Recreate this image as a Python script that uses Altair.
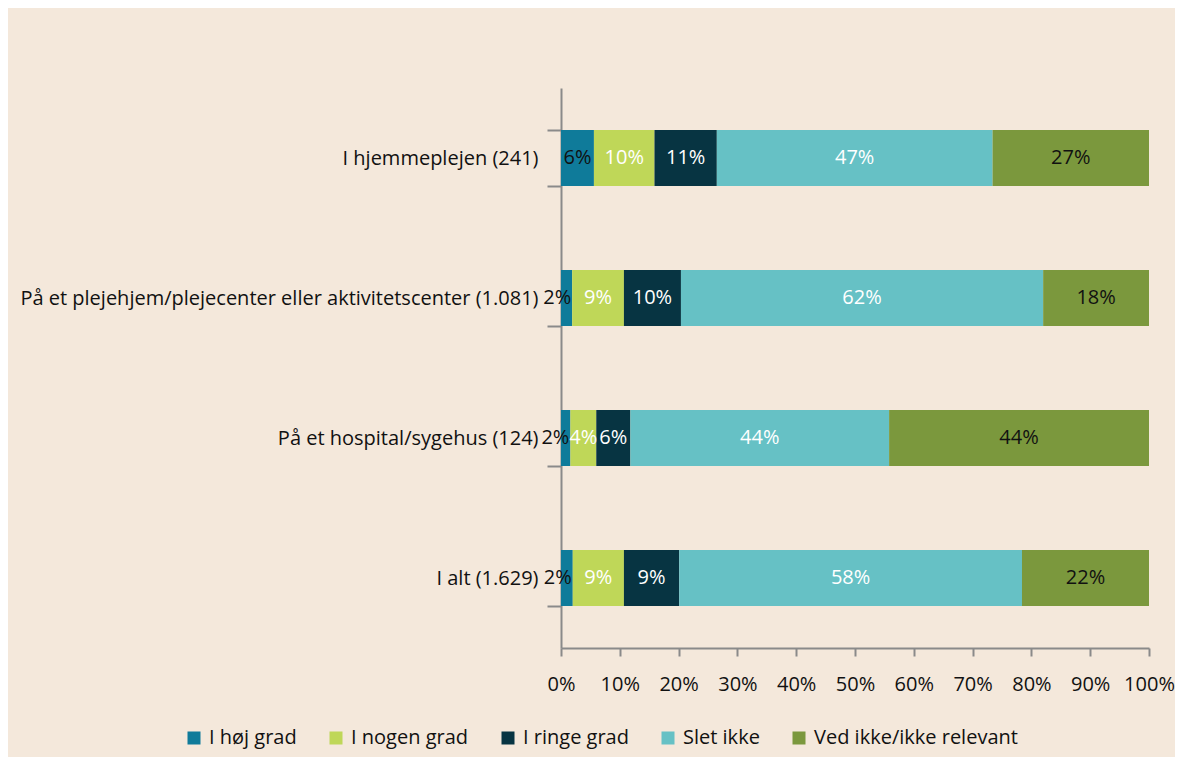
import altair as alt
import pandas as pd

categories = [
    "I hjemmeplejen (241)",
    "På et plejehjem/plejecenter eller aktivitetscenter (1.081)",
    "På et hospital/sygehus (124)",
    "I alt (1.629)",
]
series = ["I høj grad", "I nogen grad", "I ringe grad", "Slet ikke", "Ved ikke/ikke relevant"]
colors = ["#0F7B9A", "#BFD758", "#073442", "#66C1C5", "#7B983D"]

# percent per category, in series order
hoej = [5.6, 1.9, 1.6, 2.0]
nogen = [10.3, 8.8, 4.4, 8.7]
ringe = [10.6, 9.7, 5.8, 9.4]
slet = [46.9, 61.6, 44.0, 58.3]
vedikke = [26.6, 18.0, 44.2, 21.6]

x_ticks = [0, 10, 20, 30, 40, 50, 60, 70, 80, 90, 100]

vals = [hoej, nogen, ringe, slet, vedikke]
rows = []
for ci, cat in enumerate(categories):
    start = 0.0
    for si, s in enumerate(series):
        v = vals[si][ci]
        rows.append({"cat": cat, "series": s, "order": si, "value": v,
                     "x0": start, "x1": start + v, "mid": start + v / 2,
                     "label": f"{round(v):d}%"})
        start += v
df = pd.DataFrame(rows)

FONT = "Open Sans"
AXIS_COLOR = "#8A8A8A"
TXT = "#111111"

y_enc = alt.Y("cat:N", sort=categories, title=None,
              scale=alt.Scale(paddingInner=0.6, paddingOuter=0.3),
              axis=alt.Axis(labelFontSize=20, labelColor=TXT, labelFont=FONT,
                            labelPadding=9, tickSize=14, tickBand="extent",
                            domainColor=AXIS_COLOR, tickColor=AXIS_COLOR,
                            domainWidth=2, tickWidth=2, labelLimit=800))

bars = alt.Chart(df).mark_bar().encode(
    x=alt.X("x0:Q", scale=alt.Scale(domain=[0, 100], nice=False), title=None,
            axis=alt.Axis(values=x_ticks, labelExpr="datum.value + '%'",
                          labelFontSize=20, labelColor=TXT, labelFont=FONT,
                          tickSize=8, labelPadding=18, domainColor=AXIS_COLOR,
                          tickColor=AXIS_COLOR, domainWidth=2, tickWidth=2,
                          grid=False, labelFlush=False)),
    x2="x1:Q",
    y=y_enc,
    color=alt.Color("series:N", sort=series,
                    scale=alt.Scale(domain=series, range=colors),
                    legend=alt.Legend(title=None, orient="none", direction="horizontal",
                                      legendX=-377, legendY=640,
                                      symbolType="square", symbolSize=169,
                                      symbolStrokeWidth=0,
                                      labelFontSize=20, labelFont=FONT,
                                      labelColor=TXT, columnPadding=29,
                                      labelOffset=5, labelLimit=400)),
    order="order:Q",
)

small = alt.FieldLTPredicate(field="value", lt=3)

text_mid = alt.Chart(df).transform_filter(alt.FieldGTEPredicate(field="value", gte=3)).mark_text(
    fontSize=20, font=FONT, baseline="middle", align="center").encode(
    x="mid:Q",
    y=alt.Y("cat:N", sort=categories),
    text="label:N",
    color=alt.condition(
        alt.FieldOneOfPredicate(field="series", oneOf=["I høj grad", "Ved ikke/ikke relevant"]),
        alt.value(TXT), alt.value("#FFFFFF")),
)

text_small = alt.Chart(df).transform_filter(small).mark_text(
    fontSize=20, font=FONT, baseline="middle", align="right", dx=-1).encode(
    x="x1:Q",
    y=alt.Y("cat:N", sort=categories),
    text="label:N",
    color=alt.value(TXT),
)

chart = (bars + text_mid + text_small).properties(
    width=588, height=560,
    autosize=alt.AutoSizeParams(type="none"),
    padding={"left": 553, "top": 80, "right": 26, "bottom": 109},
    background="#F4E8DB",
).configure_view(stroke=None)

chart.save("out.html", embed_options={"renderer": "svg", "actions": False})
